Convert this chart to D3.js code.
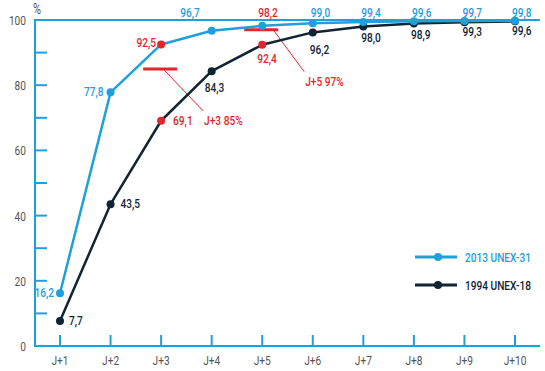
<!DOCTYPE html>
<html>
<head>
    <script src="https://cdnjs.cloudflare.com/ajax/libs/d3/7.8.5/d3.min.js"></script>
    <style>
        body { margin: 0; background: #fff; }
        svg { display: block; }
        text { font-family: Roboto, "DejaVu Sans Condensed", Arial, sans-serif; }
        .tick-label { font-size: 13px; fill: #555; }
        .val { font-size: 13px; font-weight: 500; }
        .legend { font-size: 13px; font-weight: 500; }
    </style>
</head>
<body>
    <svg width="545" height="371"></svg>
    <script>
        // Data
        const days = ["J+1", "J+2", "J+3", "J+4", "J+5", "J+6", "J+7", "J+8", "J+9", "J+10"];
        const unex31 = [16.2, 77.8, 92.5, 96.7, 98.2, 99.0, 99.4, 99.6, 99.7, 99.8];
        const unex18 = [7.7, 43.5, 69.1, 84.3, 92.4, 96.2, 98.0, 98.9, 99.3, 99.6];
        const yTicks = [0, 10, 20, 30, 40, 50, 60, 70, 80, 90, 100];
        const yLabels = [0, 20, 40, 60, 80, 100];
        const targets = [
            { day: "J+3", value: 85, text: "J+3 85%" },
            { day: "J+5", value: 97, text: "J+5 97%" }
        ];
        // highlighted (red) labels / dots
        const red31 = ["J+3", "J+5"];
        const red18 = ["J+3", "J+5"];

        const blue = "#1fa0dc";
        const dark = "#0f2533";
        const red = "#e1262c";
        const squeeze = 0.78;   // condensed look

        const svg = d3.select("svg");
        const x = d3.scalePoint().domain(days).range([60, 515]);
        const y = d3.scaleLinear().domain([0, 100]).range([346, 20]);

        // put a text at (px, py) horizontally squeezed
        function place(sel, px, py) {
            sel.attr("transform", (d, i) => `translate(${px(d, i)},${py(d, i)}) scale(${squeeze},1)`);
        }

        // label placement per point: [dx, dy, anchor]
        const pos31 = [[-6, 4, "end"], [-7, 4, "end"], [-5, 3, "end"], [-12, null, "end"],
                       [-4, null, "start"], [-2, null, "start"], [-2, null, "start"], [-2, null, "start"], [-2, null, "start"], [-3, null, "start"]];
        const pos18 = [[9, 4, "start"], [10, 4, "start"], [12, 4, "start"], [-7, 21, "start"],
                       [-5, 18, "start"], [-3, 22, "start"], [-2, 15, "start"], [-3, 15, "start"], [-2, 14, "start"], [-3, 14, "start"]];

        // axes
        const g = svg.append("g");
        g.append("line").attr("x1", 35).attr("x2", 540).attr("y1", y(0)).attr("y2", y(0))
            .attr("stroke", blue).attr("stroke-width", 2);
        g.append("line").attr("x1", 35).attr("x2", 540).attr("y1", y(100)).attr("y2", y(100))
            .attr("stroke", blue).attr("stroke-width", 2);
        g.append("line").attr("x1", 35).attr("x2", 35).attr("y1", y(0) + 1).attr("y2", y(100) - 1)
            .attr("stroke", blue).attr("stroke-width", 2);

        g.selectAll(".ytick").data(yTicks).join("line")
            .attr("x1", 35).attr("x2", 47)
            .attr("y1", d => y(d)).attr("y2", d => y(d))
            .attr("stroke", blue).attr("stroke-width", 2);
        g.selectAll(".ylab").data(yLabels).join("text")
            .attr("class", "tick-label")
            .attr("text-anchor", "end")
            .call(place, () => 26, d => y(d) + 5)
            .text(d => d);
        g.append("text").attr("class", "tick-label").style("font-size", "14px")
            .attr("text-anchor", "middle")
            .call(place, () => 37, () => 14).text("%");

        g.selectAll(".xtick").data(days).join("line")
            .attr("x1", d => x(d)).attr("x2", d => x(d))
            .attr("y1", y(0)).attr("y2", y(0) - 11)
            .attr("stroke", blue).attr("stroke-width", 2);
        g.selectAll(".xlab").data(days).join("text")
            .attr("class", "tick-label")
            .attr("text-anchor", "middle")
            .call(place, d => x(d), () => 365)
            .text(d => d);

        // target annotations
        const ann = svg.append("g");
        const leadStart = [2, 11];
        targets.forEach((t, i) => {
            const cx = x(t.day), cy = y(t.value);
            ann.append("line").attr("x1", cx - 18).attr("x2", cx + 16).attr("y1", cy).attr("y2", cy)
                .attr("stroke", red).attr("stroke-width", 3);
            ann.append("line").attr("x1", cx + leadStart[i]).attr("y1", cy)
                .attr("x2", cx + 42).attr("y2", cy + 42)
                .attr("stroke", red).attr("stroke-width", 1);
            ann.append("text").attr("class", "val").attr("fill", red)
                .call(place, () => cx + 43, () => cy + 56).text(t.text);
        });

        const line = d3.line().x((d, i) => x(days[i])).y(d => y(d));
        const fmt = v => v.toFixed(1).replace(".", ",");

        function drawSeries(vals, color, pos, reds, dotReds, topRow) {
            const s = svg.append("g");
            s.append("path").datum(vals).attr("d", line)
                .attr("fill", "none").attr("stroke", color).attr("stroke-width", 2.5)
                .attr("stroke-linejoin", "round");
            s.selectAll("circle").data(vals).join("circle")
                .attr("cx", (d, i) => x(days[i])).attr("cy", d => y(d)).attr("r", 4)
                .attr("fill", (d, i) => dotReds.includes(days[i]) ? red : color);
            s.selectAll("text").data(vals).join("text")
                .attr("class", "val")
                .attr("text-anchor", (d, i) => pos[i][2])
                .call(place, (d, i) => x(days[i]) + pos[i][0],
                             (d, i) => pos[i][1] === null ? topRow : y(d) + pos[i][1])
                .attr("fill", (d, i) => reds.includes(days[i]) ? red : color)
                .text(d => fmt(d));
        }

        drawSeries(unex18, dark, pos18, red18, red18, 0);
        drawSeries(unex31, blue, pos31, red31, ["J+3"], y(100) - 3);

        // legend
        const legend = svg.append("g");
        [[blue, "2013 UNEX-31", 257], [dark, "1994 UNEX-18", 285]].forEach(([c, label, ly]) => {
            legend.append("line").attr("x1", 415).attr("x2", 457).attr("y1", ly).attr("y2", ly)
                .attr("stroke", c).attr("stroke-width", 3);
            legend.append("circle").attr("cx", 438).attr("cy", ly).attr("r", 4).attr("fill", c);
            legend.append("text").attr("class", "legend").attr("fill", c)
                .call(place, () => 465, () => ly + 4.5).text(label);
        });
    </script>
</body>
</html>
